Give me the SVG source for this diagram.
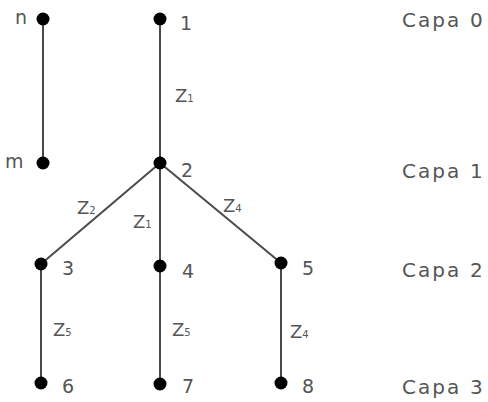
<svg xmlns="http://www.w3.org/2000/svg" width="488" height="402" viewBox="0 0 488 402">
<style>
.e{stroke:#4a4a4a;stroke-width:2;fill:none}
.d{fill:#000}
text{font-family:"DejaVu Sans","Liberation Sans",sans-serif;fill:#555;font-size:19px}
.z{font-size:18px}
.s{font-size:10px}
.c{font-size:20px;letter-spacing:2px}
</style>
<rect width="488" height="402" fill="#fff"/>
<g id="connectors">
<line class="e" x1="43" y1="19" x2="43" y2="163"/>
<line class="e" x1="160" y1="19" x2="160" y2="163"/>
<line class="e" x1="160" y1="163" x2="41" y2="264"/>
<line class="e" x1="160" y1="163" x2="160" y2="266"/>
<line class="e" x1="160" y1="163" x2="281" y2="263"/>
<line class="e" x1="41" y1="264" x2="41" y2="383"/>
<line class="e" x1="160" y1="266" x2="160" y2="384"/>
<line class="e" x1="281" y1="263" x2="281" y2="383"/>
<text class="z" x="175" y="102">Z<tspan class="s">1</tspan></text>
<text class="z" x="77" y="214">Z<tspan class="s">2</tspan></text>
<text class="z" x="133" y="228">Z<tspan class="s">1</tspan></text>
<text class="z" x="223" y="212">Z<tspan class="s">4</tspan></text>
<text class="z" x="53" y="336">Z<tspan class="s">5</tspan></text>
<text class="z" x="172" y="336">Z<tspan class="s">5</tspan></text>
<text class="z" x="290" y="338">Z<tspan class="s">4</tspan></text>
</g>
<g id="node-n"><circle class="d" cx="43" cy="19" r="6.5"/><text x="15" y="24">n</text></g>
<g id="node-m"><circle class="d" cx="43" cy="163" r="6.5"/><text x="5" y="168">m</text></g>
<g id="node-1"><circle class="d" cx="160" cy="19" r="6.5"/><text x="180" y="30">1</text></g>
<g id="node-2"><circle class="d" cx="160" cy="163" r="6.5"/><text x="181" y="177">2</text></g>
<g id="node-3"><circle class="d" cx="41" cy="264" r="6.5"/><text x="62" y="275">3</text></g>
<g id="node-4"><circle class="d" cx="160" cy="266" r="6.5"/><text x="182" y="278">4</text></g>
<g id="node-5"><circle class="d" cx="281" cy="263" r="6.5"/><text x="302" y="275">5</text></g>
<g id="node-6"><circle class="d" cx="41" cy="383" r="6.5"/><text x="62" y="393">6</text></g>
<g id="node-7"><circle class="d" cx="160" cy="384" r="6.5"/><text x="182" y="393">7</text></g>
<g id="node-8"><circle class="d" cx="281" cy="383" r="6.5"/><text x="302" y="393">8</text></g>
<g id="layers">
<text class="c" x="402" y="27">Capa<tspan x="470">0</tspan></text>
<text class="c" x="402" y="178">Capa<tspan x="470">1</tspan></text>
<text class="c" x="402" y="277">Capa<tspan x="470">2</tspan></text>
<text class="c" x="402" y="394">Capa<tspan x="470">3</tspan></text>
</g>
</svg>
